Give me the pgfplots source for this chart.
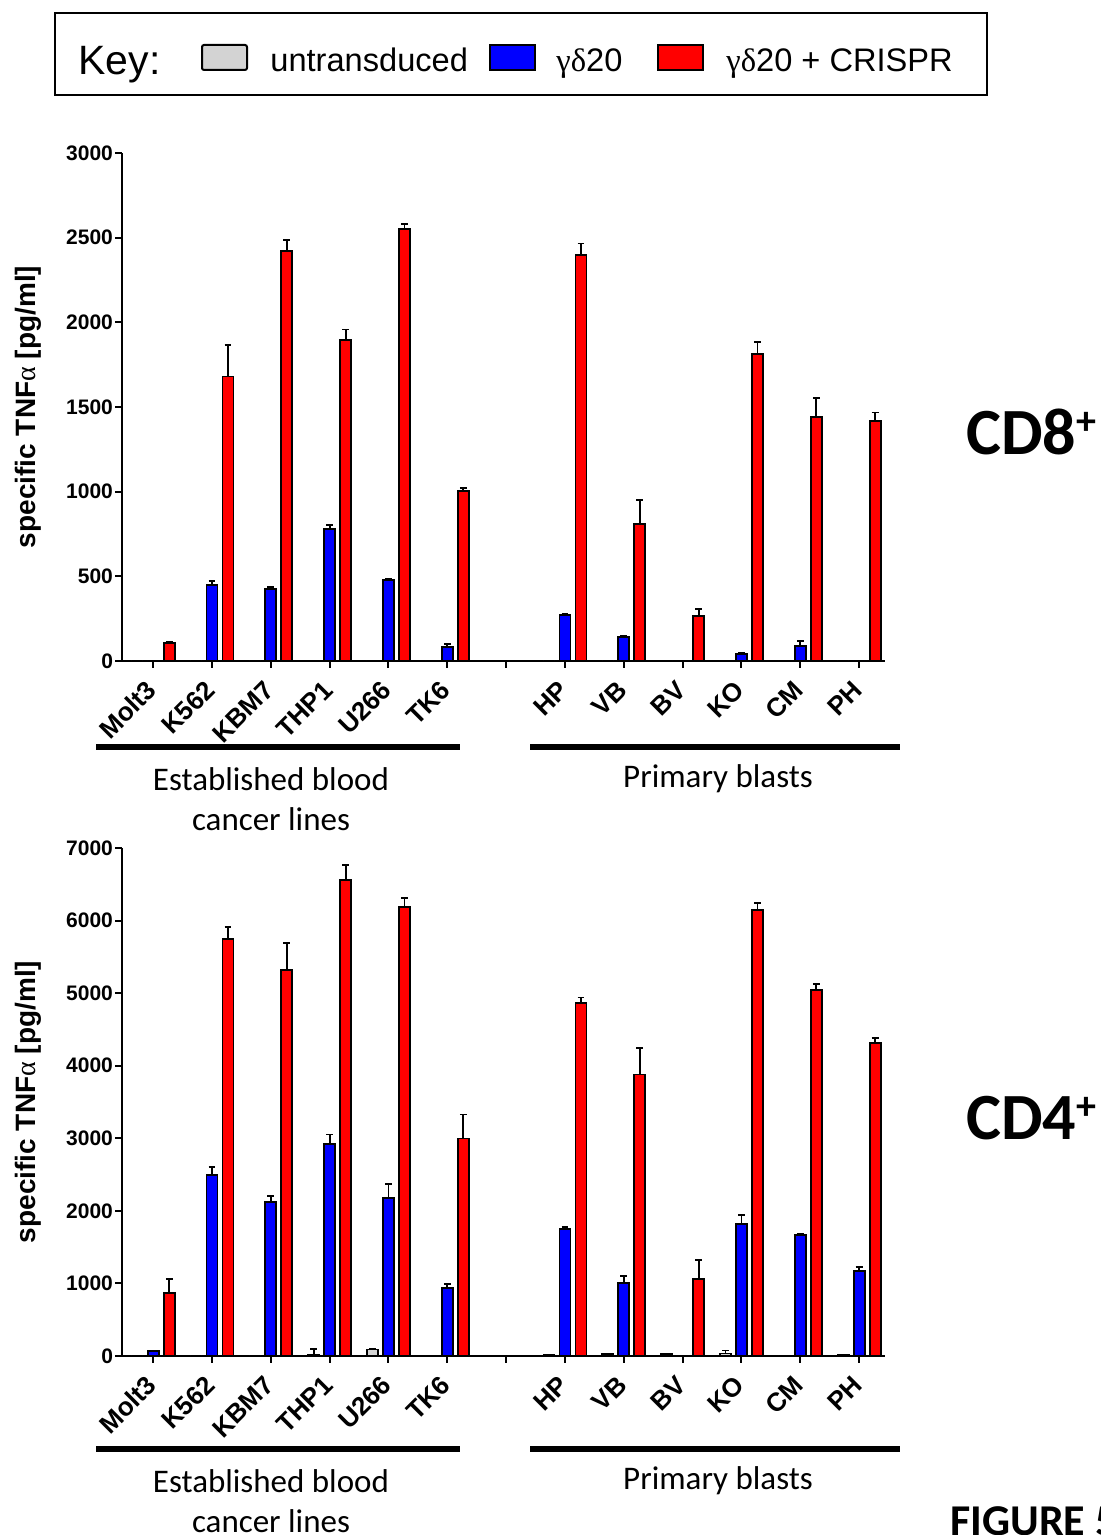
\documentclass[border=0pt]{standalone}
\usepackage{pgfplots}
\pgfplotsset{compat=1.18}
\usepackage{pgfplotstable}
\usepackage{fontspec}
\setmainfont{Liberation Sans}
\newfontfamily\calibri{Carlito}
\newfontfamily\greek{Liberation Serif}

\definecolor{untr}{RGB}{211,211,211}
\definecolor{gdblue}{RGB}{0,0,255}
\definecolor{gdred}{RGB}{255,0,0}

% specific TNFa, CD8+ effectors: mean (u,b,r) and upper error (ue,be,re)
% columns: untransduced, gd20, gd20 + CRISPR; x = 6 is the gap between groups
\pgfplotstableread{
x  u   ue  b    be   r     re
0  0   0   0    0    108   6
1  0   0   449  25   1680  185
2  0   0   425  12   2420  65
3  0   0   780  22   1895  62
4  0   0   478  8    2550  30
5  0   0   83   18   1004  18
7  0   0   272  8    2398  68
8  0   0   140  8    809   140
9  0   0   0    0    268   40
10 0   0   41   5    1813  70
11 0   0   89   28   1441  110
12 0   0   0    0    1417  50
}\cdeight

% specific TNFa, CD4+ effectors
\pgfplotstableread{
x  u   ue  b     be   r     re
0  0   0   65    12   866   190
1  0   0   2489  110  5749  165
2  0   0   2118  85   5322  370
3  10  85  2916  137  6560  205
4  90  12  2173  195  6189  125
5  0   0   935   55   2998  330
7  20  0   1747  27   4869  70
8  25  0   1004  96   3878  370
9  30  0   0     0    1059  260
10 35  40  1815  124  6148  96
11 0   0   1664  16   5047  83
12 12  0   1169  55   4318  69
}\cdfour

% side bars sit 8pt (0.272 x-units) left and right of each category
\newcommand{\barsep}{0.272}

\pgfplotsset{
  tnfaxis/.style={
    scale only axis, width=381.5pt, height=254pt,
    xmin=-0.53, xmax=12.44, ymin=0,
    axis x line=bottom, axis y line=left,
    axis line style={-, line width=1pt, black},
    tick align=outside, major tick length=3.5pt,
    tick style={line width=1pt, black},
    xtick={0,...,12},
    xticklabels={Molt3,K562,KBM7,THP1,U266,TK6,,HP,VB,BV,KO,CM,PH},
    xticklabel style={rotate=45, anchor=east, inner sep=1pt,
      font=\bfseries\fontsize{13}{15}\selectfont},
    xticklabel shift=8pt,
    yticklabel style={font=\bfseries\fontsize{10.5}{12}\selectfont, xshift=2.5pt},
    /pgf/number format/assume math mode=true,
    /pgf/number format/1000 sep={},
    ylabel={specific TNF{\greek\mdseries α} [pg/ml]},
    ylabel style={font=\bfseries\fontsize{14}{16}\selectfont,
      at={(axis description cs:-0.123,0.5)}, anchor=center},
    clip=false,
  },
  tnfbar/.style={
    ybar, bar width=5.5pt, bar shift=0pt, draw=black, line width=0.9pt,
    error bars/y dir=plus, error bars/y explicit,
    error bars/error bar style={line width=0.9pt, black},
    error bars/error mark options={rotate=90, line width=0.9pt, mark size=1.7pt, black},
  },
}

\begin{document}
\begin{tikzpicture}
\useasboundingbox (0pt,0pt) rectangle (550.5pt,767.5pt);

% key
\draw[line width=1pt] (27.5pt,720pt) rectangle (493.5pt,761pt);
\node[anchor=base west, inner sep=0pt, font=\fontsize{20.5}{24}\selectfont] at (39pt,730pt) {Key:};
\draw[line width=1pt, fill=untr, rounded corners=1pt] (101pt,732.5pt) rectangle (123.5pt,745pt);
\node[anchor=base west, inner sep=0pt, font=\fontsize{16.3}{20}\selectfont] at (135pt,731.5pt) {untransduced};
\draw[line width=1pt, fill=gdblue] (245pt,732.5pt) rectangle (267.5pt,745pt);
\node[anchor=base west, inner sep=0pt, font=\fontsize{16.3}{20}\selectfont] at (278pt,731.5pt) {{\greek γδ}20};
\draw[line width=1pt, fill=gdred] (329pt,732.5pt) rectangle (351.5pt,745pt);
\node[anchor=base west, inner sep=0pt, font=\fontsize{16.3}{20}\selectfont] at (363pt,731.5pt) {{\greek γδ}20 + CRISPR};

% CD8+ panel
\begin{axis}[tnfaxis, at={(61pt,437pt)}, anchor=south west,
  ymax=3000, ytick={0,500,...,3000}]
\addplot[tnfbar, fill=untr] table[x expr=\thisrow{x}-\barsep, y=u, y error=ue] {\cdeight};
\addplot[tnfbar, fill=gdblue] table[x=x, y=b, y error=be] {\cdeight};
\addplot[tnfbar, fill=gdred] table[x expr=\thisrow{x}+\barsep, y=r, y error=re] {\cdeight};
\end{axis}

% CD4+ panel
\begin{axis}[tnfaxis, at={(61pt,89.5pt)}, anchor=south west,
  ymax=7000, ytick={0,1000,...,7000}]
\addplot[tnfbar, fill=untr] table[x expr=\thisrow{x}-\barsep, y=u, y error=ue] {\cdfour};
\addplot[tnfbar, fill=gdblue] table[x=x, y=b, y error=be] {\cdfour};
\addplot[tnfbar, fill=gdred] table[x expr=\thisrow{x}+\barsep, y=r, y error=re] {\cdfour};
\end{axis}

% group brackets and names
\foreach \yl/\yt/\ys in {394/368/378, 43/17/27} {
  \draw[line width=3pt] (48pt,\yl pt) -- (230pt,\yl pt);
  \draw[line width=3pt] (265pt,\yl pt) -- (450pt,\yl pt);
  \node[align=center, font=\calibri\fontsize{16.5}{20}\selectfont] at (135.5pt,\yt pt) {Established blood\\cancer lines};
  \node[font=\calibri\fontsize{16.5}{20}\selectfont] at (359pt,\ys pt) {Primary blasts};
}

% panel names
\node[anchor=base west, inner sep=0pt, font=\calibri\bfseries\fontsize{33}{40}\selectfont]
  at (483pt,540pt) {CD8\raisebox{10pt}{\fontsize{20}{20}\selectfont +}};
\node[anchor=base west, inner sep=0pt, font=\calibri\bfseries\fontsize{33}{40}\selectfont]
  at (483pt,197.5pt) {CD4\raisebox{10pt}{\fontsize{20}{20}\selectfont +}};
\node[anchor=base west, inner sep=0pt, font=\calibri\bfseries\fontsize{22}{26}\selectfont]
  at (475pt,-0.5pt) {FIGURE 5};
\end{tikzpicture}
\end{document}
